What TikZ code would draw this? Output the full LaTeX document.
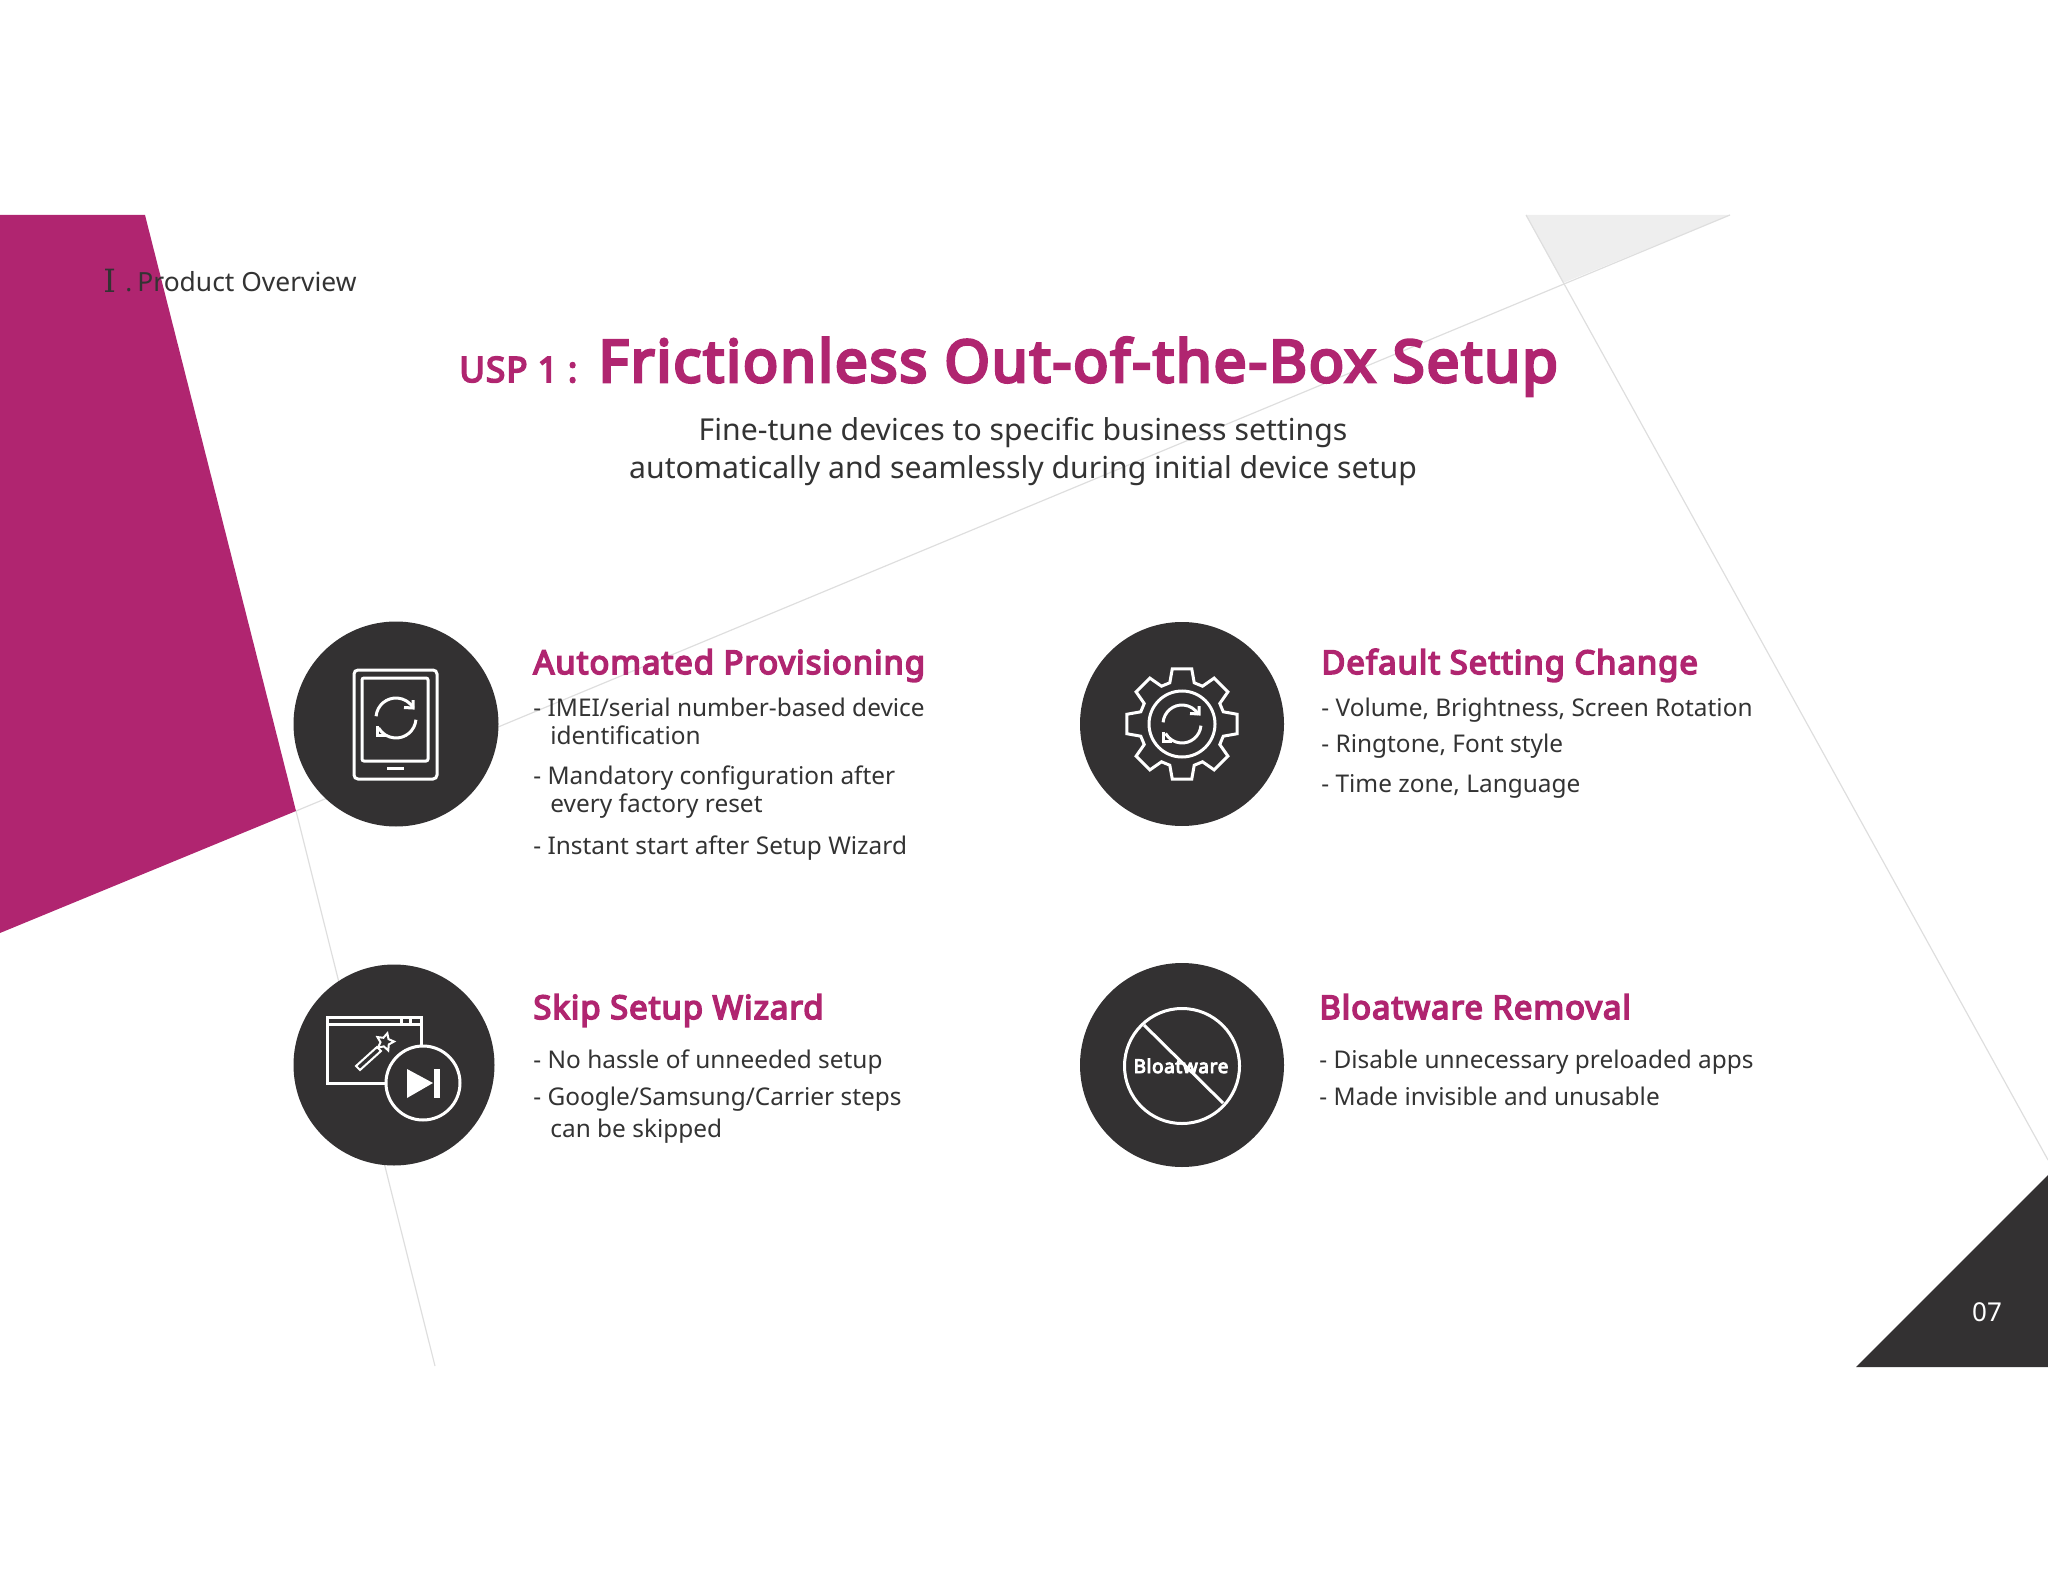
\documentclass[tikz,border=0pt]{standalone}
\usepackage{fontspec}
\setmainfont{Noto Sans}
\newfontfamily\headfont[FakeBold=5,LetterSpace=3.1]{Noto Sans}
\newfontfamily\numeralfont{DejaVu Serif}
\usetikzlibrary{shapes.geometric}
\definecolor{usppink}{HTML}{B02570}
\definecolor{uspdark}{HTML}{333132}
\definecolor{usptext}{HTML}{333333}
\definecolor{uspline}{HTML}{DEDEDE}
\definecolor{uspshade}{HTML}{EEEEEE}
\newcommand{\syncmark}[1]{%
  \draw[iconline] (185:#1) arc[start angle=185,end angle=330,radius=#1];
  \draw[iconline,line join=miter] (17,-18) -- (17,-10) -- (8,-10.5);
  \draw[iconline] (5:#1) arc[start angle=5,end angle=150,radius=#1];
  \draw[iconline,line join=miter] (-19,8) -- (-19,17) -- (-10,17);
}
\tikzset{
  iconline/.style={draw=white, line width=1.5pt},
  disc/.style={circle, fill=uspdark, inner sep=0pt, minimum size=#1},
  heading/.style={anchor=base west, inner sep=0pt, text=usppink, font=\fontsize{16.4}{20}\selectfont\headfont},
  bullet/.style={anchor=base west, inner sep=0pt, text=usptext, font=\fontsize{12.2}{14}\selectfont},
  subtitle/.style={anchor=base, inner sep=0pt, text=usptext, font=\fontsize{15.1}{18}\selectfont}
}
\begin{document}
\begin{tikzpicture}[x=0.5pt, y=-0.5pt]
  \useasboundingbox (0,0) rectangle (2048,1582);

  % slide backdrop
  \fill[uspshade] (1526,215) -- (1730,215) -- (1563,283) -- cycle;
  \draw[uspline, line width=0.6pt] (296,811) -- (1730,215);
  \draw[uspline, line width=0.6pt] (1526,215) -- (2048,1160);
  \draw[uspline, line width=0.6pt] (296,811) -- (435,1366);
  \fill[usppink] (0,215) -- (145,215) -- (296,811) -- (0,933) -- cycle;
  \fill[uspdark] (1856,1367) -- (2048,1367) -- (2048,1175) -- cycle;
  \node[anchor=base, inner sep=0pt, text=white, font=\fontsize{13}{15}\selectfont] (pagenum) at (1987,1321) {07};

  % header
  \node[anchor=base west, inner sep=0pt, text=usptext, font=\fontsize{16}{18}\selectfont] (numeral) at (103,293) {\numeralfont Ⅰ};
  \node[anchor=base west, inner sep=0pt, text=usptext, font=\fontsize{13}{15}\selectfont] (dot) at (125,292) {.};
  \node[anchor=base west, inner sep=0pt, text=usptext, font=\fontsize{13.2}{15}\selectfont] (section) at (137,292) {Product Overview};
  \node[anchor=base west, inner sep=0pt, text=usppink, font=\fontsize{17.5}{20}\selectfont\headfont] (usp) at (459,382) {USP 1 :};
  \node[anchor=base west, inner sep=0pt, text=usppink, font=\fontsize{29.2}{34}\selectfont\headfont] (title) at (598,382) {Frictionless Out-of-the-Box Setup};
  \node[subtitle] (subone) at (1023,441) {Fine-tune devices to specific business settings};
  \node[subtitle] (subtwo) at (1023,479) {automatically and seamlessly during initial device setup};

  % icon discs
  \node[disc=102.5pt] (provdisc) at (396,724) {};
  \node[disc=102pt] (setdisc) at (1182,724) {};
  \node[disc=100.5pt] (skipdisc) at (394,1065) {};
  \node[disc=102pt] (bloatdisc) at (1182,1065) {};

  % tablet
  \draw[iconline, rounded corners=2pt] (354,670) rectangle (437,779);
  \draw[iconline, rounded corners=1pt] (362,678) rectangle (428,761);
  \draw[iconline] (387,768) -- (404,768);
  \begin{scope}[shift={(396,718)}]
    \syncmark{20}
  \end{scope}

  % gear
  \begin{scope}[shift={(1182,724)}]
    \draw[iconline, line join=miter] (-16.5:43) \foreach \ang in {0,45,...,315} {
      -- (\ang-16.5:43) -- (\ang-10:56) -- (\ang+10:56) -- (\ang+16.5:43)
    } -- cycle;
    \draw[iconline] (0,0) circle (33);
    \syncmark{19}
  \end{scope}

  % window and skip button
  \draw[iconline] (386,1083) -- (327,1083) -- (327,1017) -- (421,1017) -- (421,1047);
  \draw[iconline] (327,1024) -- (421,1024);
  \draw[iconline] (401,1017) -- (401,1024);
  \draw[iconline] (410,1017) -- (410,1024);
  \draw[iconline] (423,1083) circle (37);
  \fill[white] (407,1069) -- (433,1083) -- (407,1098) -- cycle;
  \fill[white] (434,1069) rectangle (440,1098);
  \draw[iconline, line width=1pt] (356,1066) -- (360,1070) -- (381,1051) -- (377,1047) -- cycle;
  \node[star, star points=5, star point ratio=2, draw=white, line width=1pt, inner sep=1.6pt, rotate=-15] (wandstar) at (385,1042) {};

  % no-bloatware sign
  \draw[iconline] (1182,1066) circle (57.5);
  \draw[iconline] (1144,1025) -- (1223,1103);
  \node[anchor=base, inner sep=0pt, text=white, font=\fontsize{9.5}{12}\selectfont\headfont] (bloatlabel) at (1181,1073) {Bloatware};

  % feature texts
  \node[heading] (provhead) at (533,674) {Automated Provisioning};
  \node[bullet] (provone) at (533,716) {- IMEI/serial number-based device};
  \node[bullet] (provtwo) at (550,744) {identification};
  \node[bullet] (provthree) at (533,784) {- Mandatory configuration after};
  \node[bullet] (provfour) at (550,812) {every factory reset};
  \node[bullet] (provfive) at (533,854) {- Instant start after Setup Wizard};

  \node[heading] (sethead) at (1321,674) {Default Setting Change};
  \node[bullet] (setone) at (1321,716) {- Volume, Brightness, Screen Rotation};
  \node[bullet] (settwo) at (1321,752) {- Ringtone, Font style};
  \node[bullet] (setthree) at (1321,792) {- Time zone, Language};

  \node[heading] (skiphead) at (533,1019) {Skip Setup Wizard};
  \node[bullet] (skipone) at (533,1068) {- No hassle of unneeded setup};
  \node[bullet] (skiptwo) at (533,1105) {- Google/Samsung/Carrier steps};
  \node[bullet] (skipthree) at (550,1137) {can be skipped};

  \node[heading] (bloathead) at (1319,1019) {Bloatware Removal};
  \node[bullet] (bloatone) at (1319,1068) {- Disable unnecessary preloaded apps};
  \node[bullet] (bloattwo) at (1319,1105) {- Made invisible and unusable};
\end{tikzpicture}
\end{document}
